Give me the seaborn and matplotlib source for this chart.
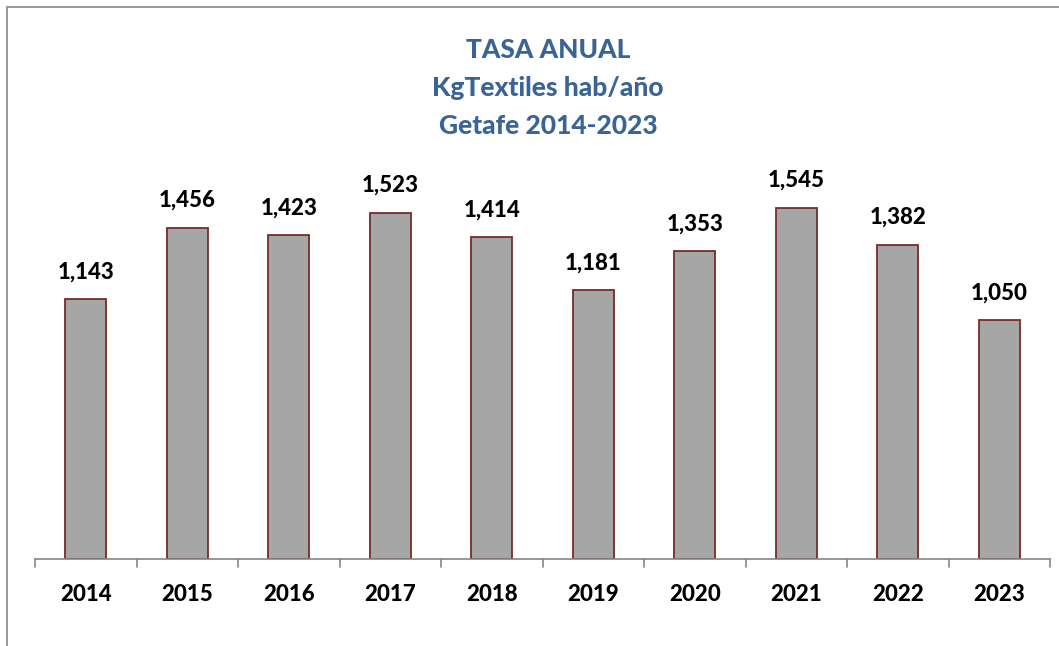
import matplotlib
matplotlib.use("Agg")
import matplotlib.pyplot as plt
import seaborn as sns
import pandas as pd
from matplotlib.patches import Rectangle

years = ["2014", "2015", "2016", "2017", "2018", "2019", "2020", "2021", "2022", "2023"]
values = [1.143, 1.456, 1.423, 1.523, 1.414, 1.181, 1.353, 1.545, 1.382, 1.050]
value_labels = ["1,143", "1,456", "1,423", "1,523", "1,414", "1,181", "1,353", "1,545", "1,382", "1,050"]
title_lines = ["TASA ANUAL", "KgTextiles hab/año", "Getafe 2014-2023"]

sns.set_style("white")
plt.rcParams['font.family'] = ['Lato', 'DejaVu Sans']

W, H = 1059, 646
fig = plt.figure(figsize=(W / 100, H / 100), dpi=100)
ax = fig.add_axes([35 / W, 87 / H, (1050 - 35) / W, (559 - 104) / H])

df = pd.DataFrame({"year": years, "value": values})
sns.barplot(data=df, x="year", y="value", ax=ax, width=0.4, color="#A6A6A6",
            edgecolor="#772C2A", linewidth=1.3, saturation=1)

ax.set_ylim(0, 2.0)
ax.set_xlim(-0.5, len(years) - 0.5)
ax.set_xlabel("")
ax.set_ylabel("")
ax.set_yticks([])
for s in ["top", "right", "left"]:
    ax.spines[s].set_visible(False)
ax.spines["bottom"].set_color("#868686")
ax.spines["bottom"].set_linewidth(1.2)

ax.set_xticks(range(len(years)))
ax.set_xticklabels(years, fontsize=16, fontweight=900, color="black")
ax.tick_params(axis="x", length=0, pad=18)
for i in range(len(years) + 1):
    ax.plot([i - 0.5, i - 0.5], [0, -0.035], color="#868686", lw=1.2,
            clip_on=False, transform=ax.transData)

for i, (v, lab) in enumerate(zip(values, value_labels)):
    ax.annotate(lab, (i, v), xytext=(0, 12), textcoords="offset points",
                ha="center", va="bottom", fontsize=16, fontweight=900, color="black")

for k, line in enumerate(title_lines):
    fig.text(548 / W, 1 - (50 + 38 * k) / H, line, ha="center", va="center",
             fontsize=19, fontweight=900, color="#3A6496")

fig.patches.append(Rectangle((7 / W, -0.1), 1.2, 1.1 - 7 / H, transform=fig.transFigure,
                             fill=False, edgecolor="#868686", lw=1.2))

fig.savefig("out.png", dpi=100)
